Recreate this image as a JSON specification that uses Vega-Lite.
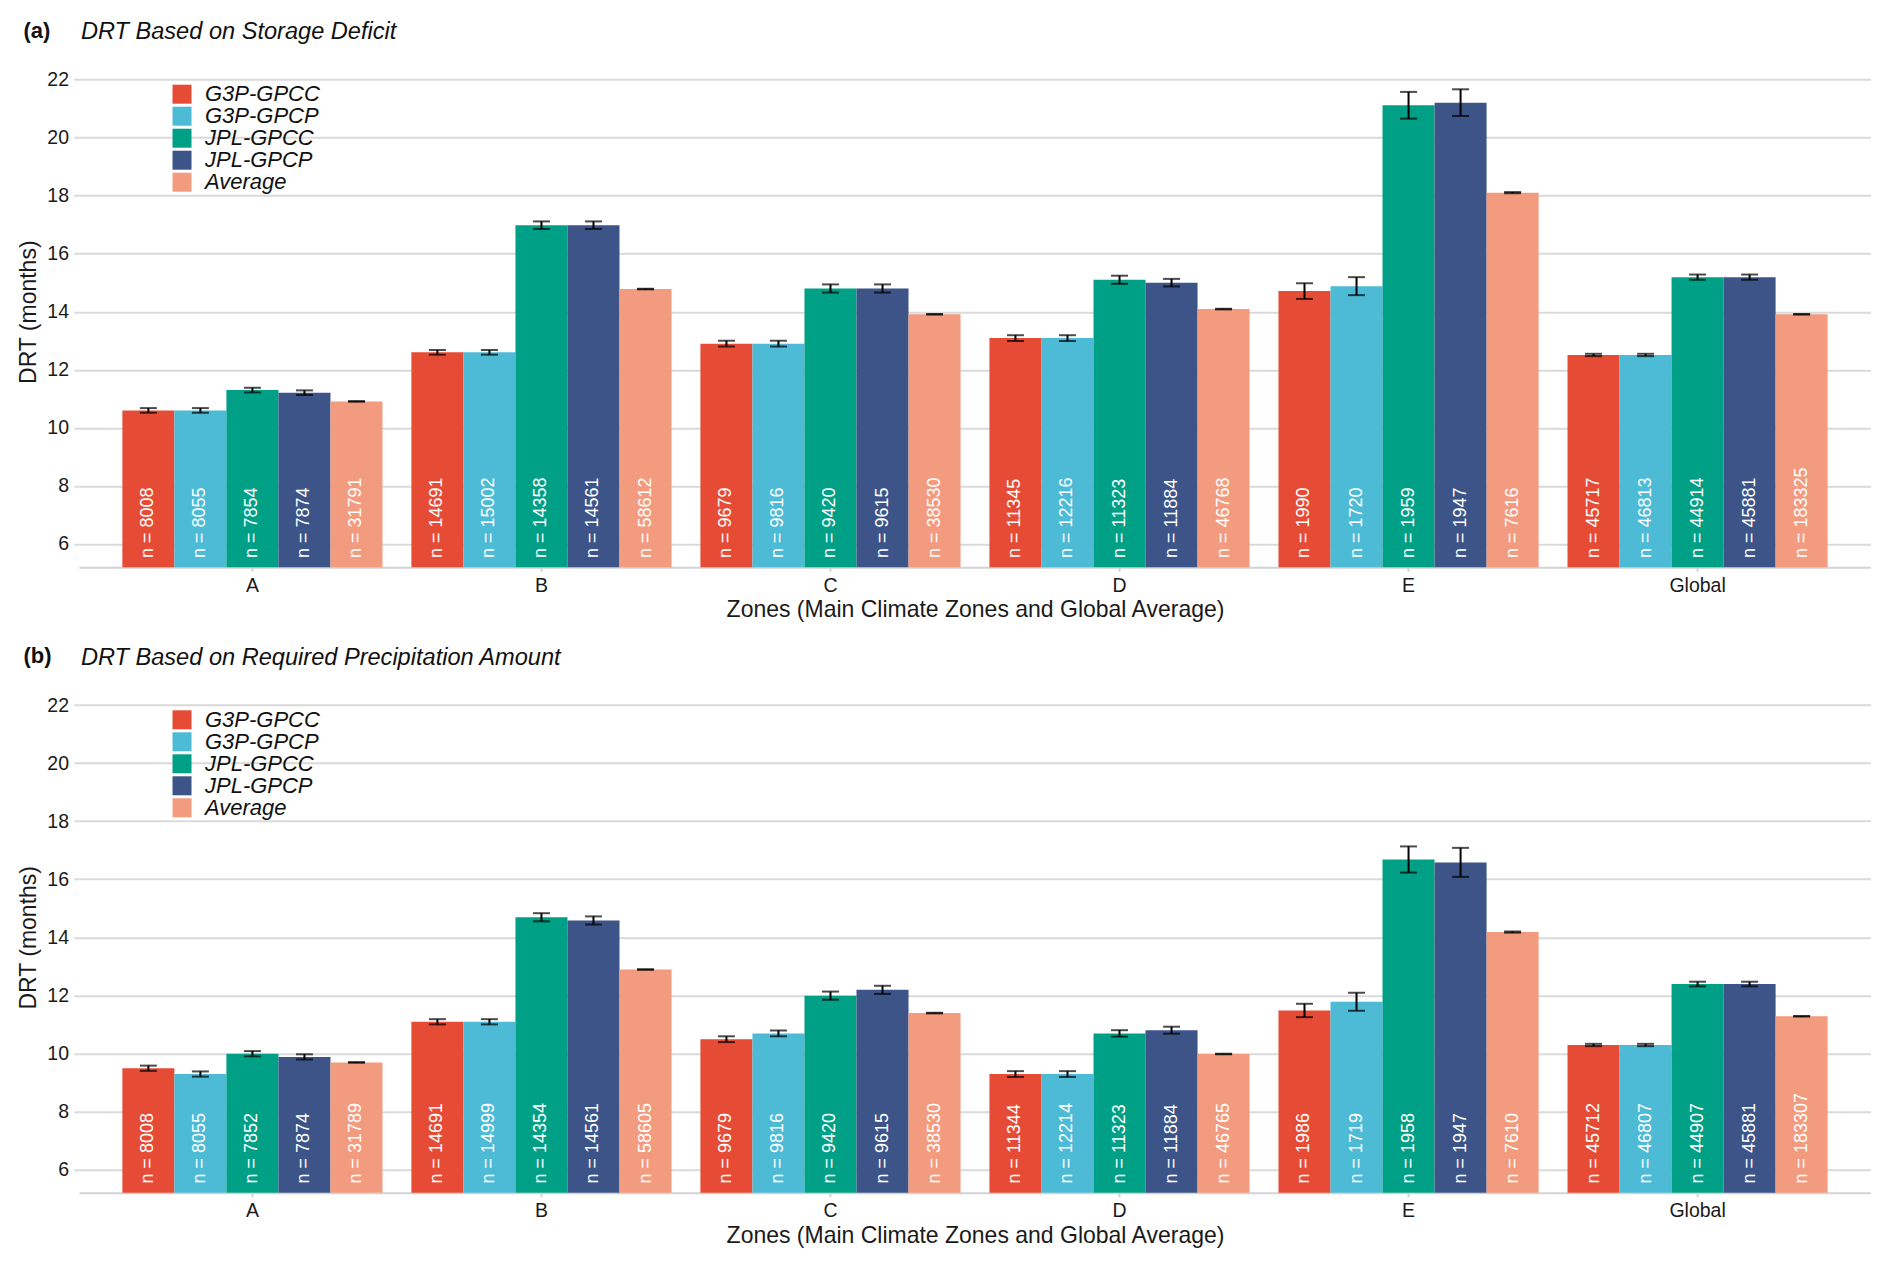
{
  "$schema": "https://vega.github.io/schema/vega-lite/v6.json",
  "background": "white",
  "padding": {"left": 17, "top": 19.2, "right": 0, "bottom": 0},
  "spacing": 22.6,
  "datasets": {
    "a": [
      {"zone": "A", "dataset": "G3P-GPCC", "drt": 10.60, "lo": 10.52, "hi": 10.68, "n": "n = 8008"},
      {"zone": "A", "dataset": "G3P-GPCP", "drt": 10.60, "lo": 10.52, "hi": 10.68, "n": "n = 8055"},
      {"zone": "A", "dataset": "JPL-GPCC", "drt": 11.30, "lo": 11.22, "hi": 11.38, "n": "n = 7854"},
      {"zone": "A", "dataset": "JPL-GPCP", "drt": 11.21, "lo": 11.13, "hi": 11.29, "n": "n = 7874"},
      {"zone": "A", "dataset": "Average", "drt": 10.91, "lo": 10.90, "hi": 10.92, "n": "n = 31791"},
      {"zone": "B", "dataset": "G3P-GPCC", "drt": 12.60, "lo": 12.52, "hi": 12.68, "n": "n = 14691"},
      {"zone": "B", "dataset": "G3P-GPCP", "drt": 12.60, "lo": 12.52, "hi": 12.68, "n": "n = 15002"},
      {"zone": "B", "dataset": "JPL-GPCC", "drt": 16.98, "lo": 16.85, "hi": 17.11, "n": "n = 14358"},
      {"zone": "B", "dataset": "JPL-GPCP", "drt": 16.98, "lo": 16.85, "hi": 17.11, "n": "n = 14561"},
      {"zone": "B", "dataset": "Average", "drt": 14.78, "lo": 14.77, "hi": 14.79, "n": "n = 58612"},
      {"zone": "C", "dataset": "G3P-GPCC", "drt": 12.90, "lo": 12.80, "hi": 13.00, "n": "n = 9679"},
      {"zone": "C", "dataset": "G3P-GPCP", "drt": 12.90, "lo": 12.80, "hi": 13.00, "n": "n = 9816"},
      {"zone": "C", "dataset": "JPL-GPCC", "drt": 14.80, "lo": 14.66, "hi": 14.94, "n": "n = 9420"},
      {"zone": "C", "dataset": "JPL-GPCP", "drt": 14.80, "lo": 14.66, "hi": 14.94, "n": "n = 9615"},
      {"zone": "C", "dataset": "Average", "drt": 13.91, "lo": 13.90, "hi": 13.92, "n": "n = 38530"},
      {"zone": "D", "dataset": "G3P-GPCC", "drt": 13.09, "lo": 12.99, "hi": 13.19, "n": "n = 11345"},
      {"zone": "D", "dataset": "G3P-GPCP", "drt": 13.09, "lo": 12.99, "hi": 13.19, "n": "n = 12216"},
      {"zone": "D", "dataset": "JPL-GPCC", "drt": 15.10, "lo": 14.96, "hi": 15.24, "n": "n = 11323"},
      {"zone": "D", "dataset": "JPL-GPCP", "drt": 15.00, "lo": 14.87, "hi": 15.13, "n": "n = 11884"},
      {"zone": "D", "dataset": "Average", "drt": 14.09, "lo": 14.08, "hi": 14.10, "n": "n = 46768"},
      {"zone": "E", "dataset": "G3P-GPCC", "drt": 14.71, "lo": 14.44, "hi": 14.98, "n": "n = 1990"},
      {"zone": "E", "dataset": "G3P-GPCP", "drt": 14.88, "lo": 14.57, "hi": 15.19, "n": "n = 1720"},
      {"zone": "E", "dataset": "JPL-GPCC", "drt": 21.11, "lo": 20.65, "hi": 21.57, "n": "n = 1959"},
      {"zone": "E", "dataset": "JPL-GPCP", "drt": 21.20, "lo": 20.74, "hi": 21.66, "n": "n = 1947"},
      {"zone": "E", "dataset": "Average", "drt": 18.10, "lo": 18.08, "hi": 18.12, "n": "n = 7616"},
      {"zone": "Global", "dataset": "G3P-GPCC", "drt": 12.51, "lo": 12.47, "hi": 12.55, "n": "n = 45717"},
      {"zone": "Global", "dataset": "G3P-GPCP", "drt": 12.51, "lo": 12.47, "hi": 12.55, "n": "n = 46813"},
      {"zone": "Global", "dataset": "JPL-GPCC", "drt": 15.19, "lo": 15.10, "hi": 15.28, "n": "n = 44914"},
      {"zone": "Global", "dataset": "JPL-GPCP", "drt": 15.19, "lo": 15.10, "hi": 15.28, "n": "n = 45881"},
      {"zone": "Global", "dataset": "Average", "drt": 13.91, "lo": 13.90, "hi": 13.92, "n": "n = 183325"}
    ],
    "b": [
      {"zone": "A", "dataset": "G3P-GPCC", "drt": 9.49, "lo": 9.40, "hi": 9.58, "n": "n = 8008"},
      {"zone": "A", "dataset": "G3P-GPCP", "drt": 9.29, "lo": 9.20, "hi": 9.38, "n": "n = 8055"},
      {"zone": "A", "dataset": "JPL-GPCC", "drt": 9.99, "lo": 9.90, "hi": 10.08, "n": "n = 7852"},
      {"zone": "A", "dataset": "JPL-GPCP", "drt": 9.88, "lo": 9.79, "hi": 9.97, "n": "n = 7874"},
      {"zone": "A", "dataset": "Average", "drt": 9.69, "lo": 9.68, "hi": 9.70, "n": "n = 31789"},
      {"zone": "B", "dataset": "G3P-GPCC", "drt": 11.09, "lo": 11.00, "hi": 11.18, "n": "n = 14691"},
      {"zone": "B", "dataset": "G3P-GPCP", "drt": 11.09, "lo": 11.00, "hi": 11.18, "n": "n = 14999"},
      {"zone": "B", "dataset": "JPL-GPCC", "drt": 14.69, "lo": 14.55, "hi": 14.83, "n": "n = 14354"},
      {"zone": "B", "dataset": "JPL-GPCP", "drt": 14.58, "lo": 14.44, "hi": 14.72, "n": "n = 14561"},
      {"zone": "B", "dataset": "Average", "drt": 12.89, "lo": 12.88, "hi": 12.90, "n": "n = 58605"},
      {"zone": "C", "dataset": "G3P-GPCC", "drt": 10.49, "lo": 10.39, "hi": 10.59, "n": "n = 9679"},
      {"zone": "C", "dataset": "G3P-GPCP", "drt": 10.69, "lo": 10.59, "hi": 10.79, "n": "n = 9816"},
      {"zone": "C", "dataset": "JPL-GPCC", "drt": 11.99, "lo": 11.85, "hi": 12.13, "n": "n = 9420"},
      {"zone": "C", "dataset": "JPL-GPCP", "drt": 12.19, "lo": 12.05, "hi": 12.33, "n": "n = 9615"},
      {"zone": "C", "dataset": "Average", "drt": 11.39, "lo": 11.38, "hi": 11.40, "n": "n = 38530"},
      {"zone": "D", "dataset": "G3P-GPCC", "drt": 9.29, "lo": 9.19, "hi": 9.39, "n": "n = 11344"},
      {"zone": "D", "dataset": "G3P-GPCP", "drt": 9.29, "lo": 9.19, "hi": 9.39, "n": "n = 12214"},
      {"zone": "D", "dataset": "JPL-GPCC", "drt": 10.69, "lo": 10.58, "hi": 10.80, "n": "n = 11323"},
      {"zone": "D", "dataset": "JPL-GPCP", "drt": 10.80, "lo": 10.68, "hi": 10.92, "n": "n = 11884"},
      {"zone": "D", "dataset": "Average", "drt": 9.98, "lo": 9.97, "hi": 9.99, "n": "n = 46765"},
      {"zone": "E", "dataset": "G3P-GPCC", "drt": 11.48, "lo": 11.25, "hi": 11.71, "n": "n = 1986"},
      {"zone": "E", "dataset": "G3P-GPCP", "drt": 11.78, "lo": 11.47, "hi": 12.09, "n": "n = 1719"},
      {"zone": "E", "dataset": "JPL-GPCC", "drt": 16.68, "lo": 16.23, "hi": 17.13, "n": "n = 1958"},
      {"zone": "E", "dataset": "JPL-GPCP", "drt": 16.58, "lo": 16.08, "hi": 17.08, "n": "n = 1947"},
      {"zone": "E", "dataset": "Average", "drt": 14.18, "lo": 14.16, "hi": 14.20, "n": "n = 7610"},
      {"zone": "Global", "dataset": "G3P-GPCC", "drt": 10.29, "lo": 10.25, "hi": 10.33, "n": "n = 45712"},
      {"zone": "Global", "dataset": "G3P-GPCP", "drt": 10.29, "lo": 10.25, "hi": 10.33, "n": "n = 46807"},
      {"zone": "Global", "dataset": "JPL-GPCC", "drt": 12.39, "lo": 12.31, "hi": 12.47, "n": "n = 44907"},
      {"zone": "Global", "dataset": "JPL-GPCP", "drt": 12.39, "lo": 12.31, "hi": 12.47, "n": "n = 45881"},
      {"zone": "Global", "dataset": "Average", "drt": 11.28, "lo": 11.27, "hi": 11.29, "n": "n = 183307"}
    ]
  },
  "config": {
    "font": "Liberation Sans",
    "view": {"stroke": null},
    "axis": {"labelColor": "#1a1a1a", "titleColor": "#1a1a1a", "titleFontWeight": "normal", "labelFont": "Liberation Sans", "titleFont": "Liberation Sans"},
    "axisX": {"labelAngle": 0, "labelFontSize": 19.5, "tickSize": 4, "tickColor": "#D3D3D3", "tickWidth": 2, "labelPadding": 5, "titleFontSize": 23, "titlePadding": 4, "domainColor": "#D3D3D3", "domainWidth": 2, "grid": false},
    "axisY": {"labelFontSize": 19.5, "tickSize": 5, "tickColor": "#D9D9D9", "tickWidth": 2, "labelPadding": 5.5, "titleFontSize": 23, "titlePadding": 6, "domain": false, "grid": true, "gridColor": "#DADADA", "gridWidth": 2},
    "legend": {"labelFont": "Liberation Sans"}
  },
  "vconcat": [
    {
      "data": {"name": "a"},
      "width": 1792,
      "height": 511,
      "title": {"text": "(a)", "anchor": "start", "frame": "group", "dx": -55.6, "offset": -23, "fontSize": 22, "fontWeight": "bold", "color": "#111111", "font": "Liberation Sans"},
      "encoding": {
        "xOffset": {"field": "dataset", "type": "nominal", "sort": ["G3P-GPCC", "G3P-GPCP", "JPL-GPCC", "JPL-GPCP", "Average"], "scale": {"paddingInner": 0, "paddingOuter": 0}}
      },
      "layer": [
        {
          "encoding": {
            "x": {"field": "zone", "type": "nominal", "sort": ["A", "B", "C", "D", "E", "Global"], "scale": {"paddingInner": 0.1, "paddingOuter": 0.15}, "title": "Zones (Main Climate Zones and Global Average)"}
          },
          "layer": [
            {
              "mark": {"type": "bar", "clip": true},
              "encoding": {
                "y": {"field": "drt", "type": "quantitative", "scale": {"domain": [5.2, 22.8], "nice": false, "zero": false}, "axis": {"values": [6, 8, 10, 12, 14, 16, 18, 20, 22]}, "title": "DRT (months)"},
                "color": {"field": "dataset", "type": "nominal", "sort": ["G3P-GPCC", "G3P-GPCP", "JPL-GPCC", "JPL-GPCP", "Average"], "scale": {"domain": ["G3P-GPCC", "G3P-GPCP", "JPL-GPCC", "JPL-GPCP", "Average"], "range": ["#E64B35", "#4DBBD5", "#00A087", "#3C5488", "#F39B7F"]}, "legend": {"orient": "none", "legendX": 92, "legendY": 27, "title": null, "symbolType": "square", "symbolSize": 361, "symbolStrokeWidth": 0, "labelFontSize": 22, "labelFontStyle": "italic", "labelColor": "#111111", "labelOffset": 12, "rowPadding": 0, "padding": 0}}
              }
            },
            {
              "mark": {"type": "rule", "color": "black", "strokeWidth": 2},
              "encoding": {"y": {"field": "lo", "type": "quantitative", "title": "DRT (months)"}, "y2": {"field": "hi"}}
            },
            {
              "mark": {"type": "tick", "color": "black", "size": 17, "thickness": 2, "orient": "horizontal"},
              "encoding": {"y": {"field": "lo", "type": "quantitative", "title": "DRT (months)"}}
            },
            {
              "mark": {"type": "tick", "color": "black", "size": 17, "thickness": 2, "orient": "horizontal"},
              "encoding": {"y": {"field": "hi", "type": "quantitative", "title": "DRT (months)"}}
            }
          ]
        },
        {
          "mark": {"type": "text", "angle": 270, "align": "left", "baseline": "middle", "color": "white", "fontSize": 18, "font": "Liberation Sans"},
          "encoding": {
            "x": {"field": "zone", "type": "nominal", "sort": ["A", "B", "C", "D", "E", "Global"], "axis": {"orient": "top", "labels": false, "ticks": false, "domain": false, "grid": false, "title": "DRT Based on Storage Deficit", "titleFontStyle": "italic", "titleFontSize": 23.6, "titleFontWeight": "normal", "titleColor": "#111111", "titleX": 1.4, "titleY": -36.4, "titleAlign": "left", "titleBaseline": "top", "titleAngle": 0, "titleAnchor": "start"}},
            "y": {"datum": 5.52},
            "text": {"field": "n"}
          }
        }
      ],
      "resolve": {"axis": {"x": "independent"}}
    },
    {
      "data": {"name": "b"},
      "width": 1792,
      "height": 511,
      "title": {"text": "(b)", "anchor": "start", "frame": "group", "dx": -55.6, "offset": -23, "fontSize": 22, "fontWeight": "bold", "color": "#111111", "font": "Liberation Sans"},
      "encoding": {
        "xOffset": {"field": "dataset", "type": "nominal", "sort": ["G3P-GPCC", "G3P-GPCP", "JPL-GPCC", "JPL-GPCP", "Average"], "scale": {"paddingInner": 0, "paddingOuter": 0}}
      },
      "layer": [
        {
          "encoding": {
            "x": {"field": "zone", "type": "nominal", "sort": ["A", "B", "C", "D", "E", "Global"], "scale": {"paddingInner": 0.1, "paddingOuter": 0.15}, "title": "Zones (Main Climate Zones and Global Average)"}
          },
          "layer": [
            {
              "mark": {"type": "bar", "clip": true},
              "encoding": {
                "y": {"field": "drt", "type": "quantitative", "scale": {"domain": [5.2, 22.8], "nice": false, "zero": false}, "axis": {"values": [6, 8, 10, 12, 14, 16, 18, 20, 22]}, "title": "DRT (months)"},
                "color": {"field": "dataset", "type": "nominal", "sort": ["G3P-GPCC", "G3P-GPCP", "JPL-GPCC", "JPL-GPCP", "Average"], "scale": {"domain": ["G3P-GPCC", "G3P-GPCP", "JPL-GPCC", "JPL-GPCP", "Average"], "range": ["#E64B35", "#4DBBD5", "#00A087", "#3C5488", "#F39B7F"]}, "legend": {"orient": "none", "legendX": 92, "legendY": 27, "title": null, "symbolType": "square", "symbolSize": 361, "symbolStrokeWidth": 0, "labelFontSize": 22, "labelFontStyle": "italic", "labelColor": "#111111", "labelOffset": 12, "rowPadding": 0, "padding": 0}}
              }
            },
            {
              "mark": {"type": "rule", "color": "black", "strokeWidth": 2},
              "encoding": {"y": {"field": "lo", "type": "quantitative", "title": "DRT (months)"}, "y2": {"field": "hi"}}
            },
            {
              "mark": {"type": "tick", "color": "black", "size": 17, "thickness": 2, "orient": "horizontal"},
              "encoding": {"y": {"field": "lo", "type": "quantitative", "title": "DRT (months)"}}
            },
            {
              "mark": {"type": "tick", "color": "black", "size": 17, "thickness": 2, "orient": "horizontal"},
              "encoding": {"y": {"field": "hi", "type": "quantitative", "title": "DRT (months)"}}
            }
          ]
        },
        {
          "mark": {"type": "text", "angle": 270, "align": "left", "baseline": "middle", "color": "white", "fontSize": 18, "font": "Liberation Sans"},
          "encoding": {
            "x": {"field": "zone", "type": "nominal", "sort": ["A", "B", "C", "D", "E", "Global"], "axis": {"orient": "top", "labels": false, "ticks": false, "domain": false, "grid": false, "title": "DRT Based on Required Precipitation Amount", "titleFontStyle": "italic", "titleFontSize": 23.6, "titleFontWeight": "normal", "titleColor": "#111111", "titleX": 1.4, "titleY": -36.4, "titleAlign": "left", "titleBaseline": "top", "titleAngle": 0, "titleAnchor": "start"}},
            "y": {"datum": 5.52},
            "text": {"field": "n"}
          }
        }
      ],
      "resolve": {"axis": {"x": "independent"}}
    }
  ],
  "resolve": {"scale": {"color": "independent"}, "legend": {"color": "independent"}}
}
